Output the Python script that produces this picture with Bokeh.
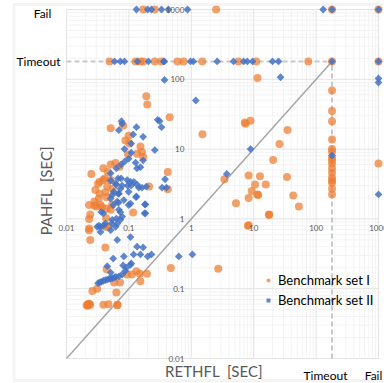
import math
from bokeh.plotting import figure
from bokeh.models import (Range1d, LabelSet, Label, ColumnDataSource,
                          Legend, LegendItem, BoxAnnotation)
from bokeh.core.properties import value
from bokeh.embed import file_html
from bokeh.resources import INLINE

# ---------------- data ----------------
TIMEOUT = 180
FAIL = 1000

tick_vals = [0.01, 0.1, 1, 10, 100, 1000]
tick_labels = ["0.01", "0.1", "1", "10", "100", "1000"]
cat_labels = ["Timeout", "Fail"]
x_title = "RETHFL\u00a0 [SEC]"
y_title = "PAHFL\u00a0 [SEC]"
series_names = ["Benchmark set I", "Benchmark set II"]

# Benchmark set I (orange circles): (RETHFL, PAHFL)
set1 = [
    (0.17, FAIL), (0.26, FAIL), (2.5, FAIL), (TIMEOUT, FAIL), (FAIL, FAIL),
    (0.049, TIMEOUT), (0.128, TIMEOUT), (0.153, TIMEOUT), (0.171, TIMEOUT), (0.26, TIMEOUT),
    (0.33, TIMEOUT), (0.60, TIMEOUT), (0.75, TIMEOUT), (1.5, TIMEOUT), (5.7, TIMEOUT),
    (11, TIMEOUT), (75, TIMEOUT), (TIMEOUT, TIMEOUT), (FAIL, TIMEOUT),
    (TIMEOUT, 69), (TIMEOUT, 35), (TIMEOUT, 25), (TIMEOUT, 13.7), (TIMEOUT, 10), (TIMEOUT, 9.2),
    (TIMEOUT, 7.6), (TIMEOUT, 6.9), (TIMEOUT, 6.2), (TIMEOUT, 5.3), (TIMEOUT, 4.6), (TIMEOUT, 3.9),
    (TIMEOUT, 3.55), (TIMEOUT, 3.3), (TIMEOUT, 2.7), (TIMEOUT, 2.24),
    (FAIL, 6.2),
    (11.5, 104), (7.2, 24), (7.4, 23), (8.9, 25.4), (34.8, 18.8), (25.9, 11.8), (20.5, 7.0),
    (8.3, 4.2), (12.6, 4.1), (34.2, 4.0), (10.5, 3.1), (15.6, 3.1), (9.3, 2.5), (11.5, 2.24),
    (11.8, 2.2), (8.3, 1.99), (43, 2.16), (5.2, 1.68), (53, 1.5), (17.7, 1.16), (17.5, 1.14),
    (8.3, 0.81), (8.1, 0.80), (2.7, 0.193), (3.4, 3.7), (1.51, 16.3),
    (0.19, 57), (0.197, 43.5), (0.45, 28.6), (0.081, 21.8), (0.051, 19.9), (0.42, 4.7),
    (0.42, 2.67), (0.21, 2.9),
    (0.099, 15.5), (0.088, 13.3), (0.102, 12.0), (0.153, 10.9), (0.097, 8.4), (0.135, 8.6),
    (0.162, 9.1), (0.169, 7.7), (0.051, 6.0), (0.061, 6.3), (0.071, 5.6), (0.039, 5.3),
    (0.046, 4.7), (0.025, 4.4), (0.041, 3.8), (0.034, 3.4), (0.032, 3.2), (0.039, 3.6),
    (0.051, 3.6), (0.029, 2.6), (0.034, 2.3), (0.042, 2.4), (0.044, 2.05), (0.045, 2.9),
    (0.055, 2.7), (0.033, 1.96), (0.028, 1.77), (0.035, 1.58), (0.023, 1.58), (0.037, 1.47),
    (0.044, 1.41), (0.051, 1.35), (0.024, 1.16), (0.023, 1.0), (0.043, 1.03), (0.023, 0.73),
    (0.023, 0.69), (0.042, 0.77), (0.047, 0.77), (0.024, 0.5), (0.042, 0.39), (0.117, 1.23),
    (0.054, 1.61), (0.030, 1.5), (0.028, 1.55),
    (0.044, 0.19), (0.093, 0.16), (0.112, 0.16), (0.132, 0.178), (0.15, 0.164), (0.195, 0.164),
    (0.153, 0.128), (0.072, 0.123), (0.058, 0.123), (0.031, 0.10), (0.026, 0.093), (0.063, 0.088),
    (0.47, 0.198), (0.023, 0.060), (0.022, 0.060), (0.021, 0.058), (0.022, 0.057), (0.024, 0.059),
    (0.023, 0.061), (0.039, 0.059), (0.047, 0.060), (0.065, 0.058), (0.066, 0.059),
]

# Benchmark set II (blue diamonds): (RETHFL, PAHFL)
set2 = [
    (0.132, FAIL), (0.2, FAIL), (0.23, FAIL), (0.333, FAIL), (0.43, FAIL), (0.87, FAIL),
    (130, FAIL), (TIMEOUT, FAIL), (FAIL, FAIL),
    (0.059, TIMEOUT), (0.073, TIMEOUT), (0.085, TIMEOUT), (0.137, TIMEOUT), (0.206, TIMEOUT),
    (0.36, TIMEOUT), (0.37, TIMEOUT), (0.97, TIMEOUT), (1.08, TIMEOUT), (2.6, TIMEOUT),
    (4.75, TIMEOUT), (6.9, TIMEOUT), (7.9, TIMEOUT), (9.6, TIMEOUT), (20, TIMEOUT), (25, TIMEOUT),
    (TIMEOUT, TIMEOUT), (FAIL, TIMEOUT),
    (FAIL, 103), (FAIL, 90), (FAIL, 2.24), (TIMEOUT, 8.1),
    (8.9, 10), (3.7, 4.4), (26.9, 107), (1.18, 49.7), (0.372, 98), (0.29, 26.3), (0.31, 25.1),
    (0.076, 25.1), (0.078, 23), (0.132, 20.6), (0.333, 20.6),
    (0.069, 18.7), (0.117, 16.2), (0.169, 15.0), (0.26, 9.7), (0.109, 12.0), (0.085, 10.0),
    (0.109, 8.9), (0.099, 7.3), (0.085, 6.6), (0.075, 6.0), (0.128, 6.4), (0.169, 6.9),
    (0.135, 5.3), (0.153, 5.5), (0.063, 5.3), (0.051, 4.5), (0.067, 3.8), (0.075, 3.8),
    (0.094, 3.6), (0.12, 3.4), (0.061, 3.2), (0.078, 3.0), (0.109, 3.0), (0.144, 2.8),
    (0.19, 2.9), (0.34, 2.8), (0.38, 3.7), (0.057, 2.45), (0.069, 2.3), (0.099, 2.45),
    (0.13, 2.05), (0.051, 1.96), (0.065, 1.77), (0.083, 1.86), (0.056, 1.58), (0.099, 1.58),
    (0.18, 1.61), (0.036, 1.26), (0.069, 1.35), (0.178, 1.2), (0.031, 0.77), (0.035, 0.77),
    (0.042, 0.86), (0.053, 0.86), (0.063, 1.01), (0.061, 0.77), (0.065, 0.50), (0.051, 3.55),
    (0.063, 3.1), (0.073, 2.7), (0.095, 3.0), (0.106, 3.4), (0.135, 3.1), (0.162, 2.8),
    (0.40, 2.8), (0.054, 2.2), (0.068, 2.3), (0.132, 2.1), (0.068, 1.7), (0.106, 1.66),
    (0.184, 1.61), (0.039, 1.2), (0.073, 1.25), (0.078, 1.08), (0.184, 1.2), (0.033, 0.8),
    (0.039, 0.8), (0.054, 0.97), (0.065, 0.85), (0.073, 0.97), (0.035, 0.65), (0.106, 0.55),
    (0.051, 0.69), (0.135, 0.40), (0.169, 0.39),
    (0.056, 0.27), (0.083, 0.29), (0.119, 0.31), (0.153, 0.31), (0.2, 0.29), (0.23, 0.31),
    (0.63, 0.29), (1.04, 0.31), (0.109, 0.23), (0.045, 0.21), (0.051, 0.17), (0.081, 0.215),
    (0.091, 0.2), (0.106, 0.22), (0.088, 0.18), (0.078, 0.16), (0.069, 0.15), (0.059, 0.145),
    (0.051, 0.14), (0.045, 0.135), (0.039, 0.13), (0.034, 0.123), (0.032, 0.12), (0.036, 0.125),
    (0.042, 0.133), (0.048, 0.138), (0.055, 0.142), (0.062, 0.148),
]

# ---------------- layout ----------------
W, H = 384, 383
X0, Y0 = 66, 358            # pixel position of (0.01, 0.01)
PX_DEC_X, PX_DEC_Y = 62.4, 69.8

def xv(px):
    return 10 ** (-2 + (px - X0) / PX_DEC_X)

def yv(py):
    return 10 ** (-2 + (Y0 - py) / PX_DEC_Y)

p = figure(width=W, height=H, x_axis_type="log", y_axis_type="log",
           x_range=Range1d(xv(0), xv(W)), y_range=Range1d(yv(H), yv(0)),
           output_backend="svg", toolbar_location=None,
           min_border_left=0, min_border_right=0, min_border_top=0, min_border_bottom=0)
p.xaxis.visible = False
p.yaxis.visible = False
p.xgrid.visible = False
p.ygrid.visible = False
p.outline_line_color = None
p.background_fill_color = "white"
p.border_fill_color = "white"

# grid lines inside the plot area (0.01 .. 1000 both ways)
lo, hi = tick_vals[0], tick_vals[-1]
minor = [m * 10 ** e for e in range(-2, 3) for m in range(2, 10)]
p.segment(x0=minor, y0=[lo] * len(minor), x1=minor, y1=[hi] * len(minor),
          line_color="#f3f3f3", line_width=1)
p.segment(x0=[lo] * len(minor), y0=minor, x1=[hi] * len(minor), y1=minor,
          line_color="#f3f3f3", line_width=1)
p.segment(x0=tick_vals, y0=[lo] * 6, x1=tick_vals, y1=[hi] * 6, line_color="#e3e3e3", line_width=1)
p.segment(x0=[lo] * 6, y0=tick_vals, x1=[hi] * 6, y1=tick_vals, line_color="#e3e3e3", line_width=1)

# chart-area border
p.add_layout(BoxAnnotation(left=xv(13.5), right=xv(420), bottom=yv(380), top=yv(4),
                           fill_color=None, fill_alpha=0, line_color="#d9d9d9", line_width=3))

# reference lines
p.line([lo, TIMEOUT], [lo, TIMEOUT], line_color="#a6a6a6", line_width=1.5)
p.line([lo, TIMEOUT], [TIMEOUT, TIMEOUT], line_color="#c8c8c8", line_width=2, line_dash="5 3")
p.line([TIMEOUT, TIMEOUT], [lo, TIMEOUT], line_color="#c8c8c8", line_width=2, line_dash="5 3")

ORANGE = "#ED7D31"
BLUE = "#4472C4"
s1 = ColumnDataSource(dict(x=[a for a, b in set1], y=[b for a, b in set1]))
s2 = ColumnDataSource(dict(x=[a for a, b in set2], y=[b for a, b in set2]))
r1 = p.scatter("x", "y", source=s1, marker="circle", size=8, fill_color=ORANGE, fill_alpha=0.72,
               line_color=None)
r2 = p.scatter("x", "y", source=s2, marker="square", angle=math.pi / 4, size=5.5, fill_color=BLUE,
               fill_alpha=0.85, line_color=None)

leg = Legend(items=[LegendItem(label=series_names[0], renderers=[r1]),
                    LegendItem(label=series_names[1], renderers=[r2])],
             location=(263, 74), padding=0, spacing=2, margin=0,
             label_height=18, glyph_height=10, glyph_width=10, label_standoff=5,
             label_text_font="Lato", label_text_font_size="13px", label_text_color="#000000",
             background_fill_alpha=0, border_line_alpha=0)
p.add_layout(leg)

# tick labels (axes cross at 1, 1)
FONT = "Lato"
GRAY = "#595959"
xs = ColumnDataSource(dict(x=tick_vals, y=[1] * len(tick_vals), t=tick_labels))
p.add_layout(LabelSet(x="x", y="y", text="t", source=xs, text_align="center", text_baseline="top",
                      y_offset=-6, text_font=value(FONT), text_font_size=value("8px"),
                      text_color=GRAY))
ys = ColumnDataSource(dict(x=[1] * len(tick_vals), y=tick_vals, t=tick_labels))
p.add_layout(LabelSet(x="x", y="y", text="t", source=ys, text_align="right", text_baseline="middle",
                      x_offset=-7, text_font=value(FONT), text_font_size=value("8px"),
                      text_color=GRAY))

def lab(x, y, dx, dy, text, size, color, angle=0):
    p.add_layout(Label(x=x, y=y, x_offset=dx, y_offset=dy, text=text, angle=angle,
                       text_align="center", text_baseline="middle", text_font=FONT,
                       text_font_size=size, text_color=color))

# category labels
lab(lo, TIMEOUT, -28, 0, cat_labels[0], "12px", "#000000")
lab(lo, FAIL, -24, -4, cat_labels[1], "12px", "#000000")
lab(TIMEOUT, lo, -6.5, -17, cat_labels[0], "12px", "#000000")
lab(FAIL, lo, -5, -17, cat_labels[1], "12px", "#000000")

# axis titles
lab(1, lo, 22.5, -12, x_title, "15px", GRAY)
lab(lo, 1, -21, 28, y_title, "15px", GRAY, angle=math.pi / 2)

open("out.html", "w").write(file_html(p, INLINE))
